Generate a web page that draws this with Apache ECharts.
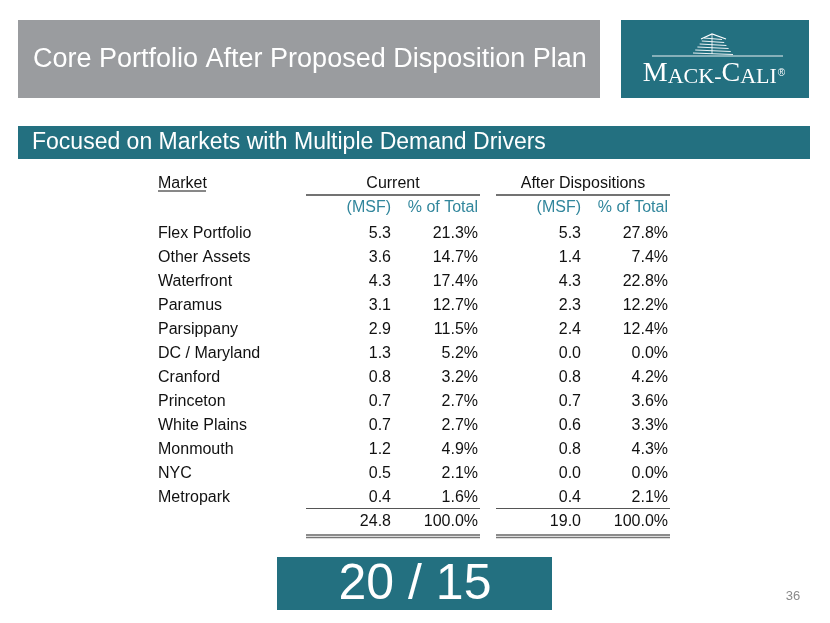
<!DOCTYPE html>
<html><head><meta charset="utf-8">
<script src="https://cdn.jsdelivr.net/npm/echarts@6/dist/echarts.min.js"></script>
<style>html,body{margin:0;padding:0;background:#fff}#c{width:830px;height:623px}</style>
</head><body><div id="c"></div>
<script>
// ---- data ----
const title = 'Core Portfolio After Proposed Disposition Plan';
const subtitle = 'Focused on Markets with Multiple Demand Drivers';
const marketHeader = 'Market';
const groupHeaders = ['Current', 'After Dispositions'];
const subHeaders = ['(MSF)', '% of Total', '(MSF)', '% of Total'];
const markets = ['Flex Portfolio','Other Assets','Waterfront','Paramus','Parsippany','DC / Maryland','Cranford','Princeton','White Plains','Monmouth','NYC','Metropark'];
const currentMSF = [5.3, 3.6, 4.3, 3.1, 2.9, 1.3, 0.8, 0.7, 0.7, 1.2, 0.5, 0.4];
const currentPct = [21.3, 14.7, 17.4, 12.7, 11.5, 5.2, 3.2, 2.7, 2.7, 4.9, 2.1, 1.6];
const afterMSF = [5.3, 1.4, 4.3, 2.3, 2.4, 0.0, 0.8, 0.7, 0.6, 0.8, 0.0, 0.4];
const afterPct = [27.8, 7.4, 22.8, 12.2, 12.4, 0.0, 4.2, 3.6, 3.3, 4.3, 0.0, 2.1];
const totals = [24.8, 100.0, 19.0, 100.0];
const footerBox = '20 / 15';
const pageNumber = '36';

// ---- layout ----
const FONT = '"Liberation Sans", Arial, Helvetica, sans-serif';
const TEAL = '#237080';
const SUBTEAL = '#31869c';
const TXT = '#111111';
const rowKeys = ['__group', '__sub'].concat(markets, ['__total']);
const marketX = 158;
const colRight = [391, 478, 581, 668];
const groupCenter = [393, 583];
const groupLine = [[306, 480], [496, 670]];
const DY = 1;

const chart = echarts.init(document.getElementById('c'), null, {renderer: 'canvas'});

function textCell(x, y, text, opts) {
  return {
    type: 'text', x: x, y: y + DY,
    style: Object.assign({text: text, fontFamily: FONT, fontSize: 16, fill: TXT,
      align: 'right', verticalAlign: 'middle'}, opts || {})
  };
}

function columnSeries(name, values, anchor, fmt, rowOffset, opts) {
  return {
    type: 'custom', name: name, coordinateSystem: 'cartesian2d',
    encode: {y: 0, x: 1},
    data: values.map((v, i) => [rowKeys[i + rowOffset], v]),
    renderItem: function (params, api) {
      const p = api.coord([anchor, api.value(0)]);
      const raw = values[params.dataIndex];
      return textCell(p[0], p[1], fmt(raw), opts);
    },
    silent: true, animation: false
  };
}

const fmtNum = v => Number(v).toFixed(1);
const fmtPct = v => Number(v).toFixed(1) + '%';
const fmtStr = v => String(v);

const series = [
  columnSeries('market', markets, marketX, fmtStr, 2, {align: 'left'}),
  columnSeries('curMSF', currentMSF, colRight[0], fmtNum, 2),
  columnSeries('curPct', currentPct, colRight[1], fmtPct, 2),
  columnSeries('aftMSF', afterMSF, colRight[2], fmtNum, 2),
  columnSeries('aftPct', afterPct, colRight[3], fmtPct, 2),
  // totals row
  {
    type: 'custom', name: 'totals', coordinateSystem: 'cartesian2d', encode: {y: 0, x: 1},
    data: totals.map(v => ['__total', v]),
    renderItem: function (params, api) {
      const p = api.coord([colRight[params.dataIndex], api.value(0)]);
      const v = totals[params.dataIndex];
      return textCell(p[0], p[1], params.dataIndex % 2 ? fmtPct(v) : fmtNum(v));
    }, silent: true, animation: false
  },
  // sub headers
  {
    type: 'custom', name: 'sub', coordinateSystem: 'cartesian2d', encode: {y: 0},
    data: subHeaders.map(() => ['__sub']),
    renderItem: function (params, api) {
      const p = api.coord([colRight[params.dataIndex], api.value(0)]);
      return textCell(p[0], p[1] - 2, subHeaders[params.dataIndex], {fill: SUBTEAL});
    }, silent: true, animation: false
  },
  // group headers + market header
  {
    type: 'custom', name: 'group', coordinateSystem: 'cartesian2d', encode: {y: 0},
    data: [['__group'], ['__group'], ['__group']],
    renderItem: function (params, api) {
      const i = params.dataIndex;
      if (i === 2) {
        const p = api.coord([marketX, api.value(0)]);
        const w = 48;
        return {type: 'group', children: [
          textCell(p[0], p[1] - 2, marketHeader, {align: 'left'}),
          {type: 'line', shape: {x1: p[0], y1: p[1] + 6, x2: p[0] + w, y2: p[1] + 6},
           style: {stroke: TXT, lineWidth: 1}}
        ]};
      }
      const p = api.coord([groupCenter[i], api.value(0)]);
      const a = api.coord([groupLine[i][0], api.value(0)]);
      const b = api.coord([groupLine[i][1], api.value(0)]);
      return {type: 'group', children: [
        textCell(p[0], p[1] - 2, groupHeaders[i], {align: 'center'}),
        {type: 'line', shape: {x1: a[0], y1: a[1] + 10, x2: b[0], y2: b[1] + 10},
         style: {stroke: '#444', lineWidth: 1.5}}
      ]};
    }, silent: true, animation: false
  },
  // rules above and below totals
  {
    type: 'custom', name: 'rules', coordinateSystem: 'cartesian2d', encode: {y: 0},
    data: [['__total'], ['__total']],
    renderItem: function (params, api) {
      const i = params.dataIndex;
      const a = api.coord([groupLine[i][0], api.value(0)]);
      const b = api.coord([groupLine[i][1], api.value(0)]);
      const top = a[1] - 12.5, bot = a[1] + 14;
      return {type: 'group', children: [
        {type: 'line', shape: {x1: a[0], y1: top, x2: b[0], y2: top}, style: {stroke: '#555', lineWidth: 1.2}},
        {type: 'line', shape: {x1: a[0], y1: bot, x2: b[0], y2: bot}, style: {stroke: '#666', lineWidth: 1.3}},
        {type: 'line', shape: {x1: a[0], y1: bot + 2.5, x2: b[0], y2: bot + 2.5}, style: {stroke: '#777', lineWidth: 1.3}}
      ]};
    }, silent: true, animation: false
  }
];

// logo building stripes
const building = [];
const stripeY = [38, 41, 44, 47, 50, 53];
stripeY.forEach((y, k) => {
  building.push({type: 'line', shape: {x1: 704 - k * 2.2, y1: y, x2: 722 + k * 2.2, y2: y + 1.5},
    style: {stroke: '#ffffff', lineWidth: 1.2, opacity: 0.9}});
});
building.push({type: 'polyline', shape: {points: [[701, 39], [712, 34], [726, 39]]}, style: {stroke: '#fff', lineWidth: 1.2, fill: null}});
building.push({type: 'line', shape: {x1: 712, y1: 34, x2: 712, y2: 54}, style: {stroke: '#fff', lineWidth: 1, opacity: 0.8}});

chart.setOption({
  backgroundColor: '#ffffff',
  animation: false,
  grid: {left: 0, right: 0, top: 173, height: 360, containLabel: false},
  xAxis: {type: 'value', min: 0, max: 830, show: false},
  yAxis: {type: 'category', data: rowKeys, inverse: true, show: false},
  series: series,
  graphic: [
    {type: 'rect', shape: {x: 18, y: 20, width: 582, height: 78}, style: {fill: '#9a9c9f'}, silent: true},
    {type: 'text', x: 33, y: 60, style: {text: title, fontFamily: FONT, fontSize: 27, fill: '#ffffff', verticalAlign: 'middle'}},
    {type: 'rect', shape: {x: 621, y: 20, width: 188, height: 78}, style: {fill: TEAL}, silent: true},
    {type: 'group', children: building},
    {type: 'line', shape: {x1: 652, y1: 56, x2: 783, y2: 56}, style: {stroke: '#ffffff', lineWidth: 1, opacity: 0.9}},
    {type: 'text', x: 714, y: 74, style: {
      text: '{b|M}{s|ACK}{h|-}{b|C}{s|ALI}{r|®}', align: 'center', verticalAlign: 'middle',
      rich: {
        b: {fontFamily: '"Liberation Serif", "DejaVu Serif", serif', fontSize: 28, fill: '#fff', verticalAlign: 'bottom'},
        s: {fontFamily: '"Liberation Serif", "DejaVu Serif", serif', fontSize: 22, fill: '#fff', verticalAlign: 'bottom'},
        h: {fontFamily: '"Liberation Serif", "DejaVu Serif", serif', fontSize: 22, fill: '#fff', verticalAlign: 'bottom'},
        r: {fontFamily: FONT, fontSize: 10, fill: '#fff', verticalAlign: 'bottom', padding: [0, 0, 10, 1]}
      }
    }},
    {type: 'rect', shape: {x: 18, y: 126, width: 792, height: 33}, style: {fill: TEAL}, silent: true},
    {type: 'text', x: 32, y: 143, style: {text: subtitle, fontFamily: FONT, fontSize: 23, fill: '#ffffff', verticalAlign: 'middle'}},
    {type: 'rect', shape: {x: 277, y: 557, width: 275, height: 53}, style: {fill: TEAL}, silent: true},
    {type: 'text', x: 415, y: 585, style: {text: footerBox, fontFamily: FONT, fontSize: 50, fill: '#ffffff', align: 'center', verticalAlign: 'middle'}},
    {type: 'text', x: 793, y: 596, style: {text: pageNumber, fontFamily: FONT, fontSize: 13, fill: '#8a8a8a', align: 'center', verticalAlign: 'middle'}}
  ]
});
</script>
</body></html>
